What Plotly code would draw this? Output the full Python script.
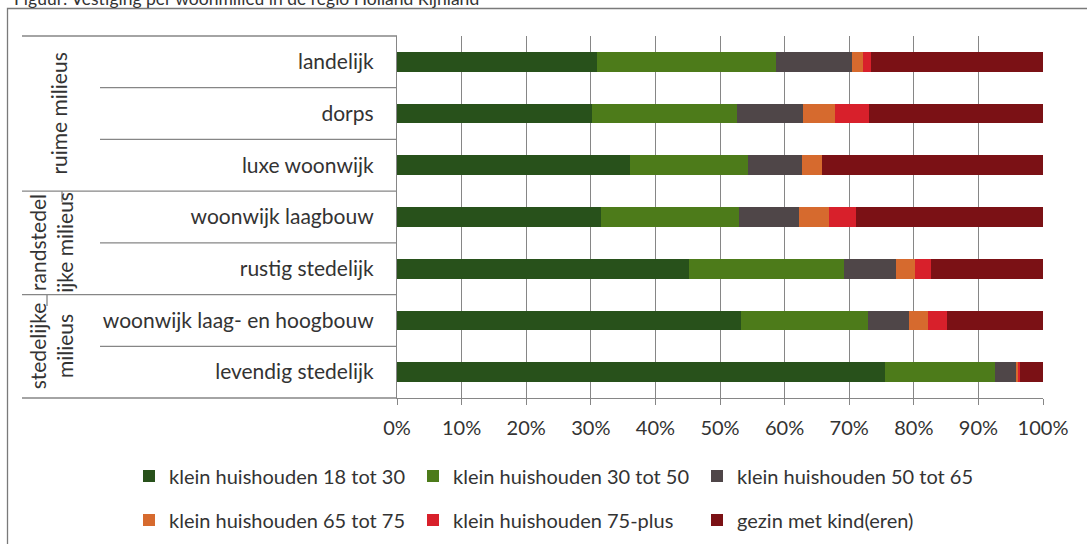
import plotly.graph_objects as go

categories = ["landelijk", "dorps", "luxe woonwijk", "woonwijk laagbouw",
              "rustig stedelijk", "woonwijk laag- en hoogbouw", "levendig stedelijk"]
series_names = ["klein huishouden 18 tot 30", "klein huishouden 30 tot 50",
                "klein huishouden 50 tot 65", "klein huishouden 65 tot 75",
                "klein huishouden 75-plus", "gezin met kind(eren)"]
hh_18_30 = [30.9, 30.2, 36.0, 31.6, 45.2, 53.2, 75.6]
hh_30_50 = [27.8, 22.4, 18.4, 21.3, 24.0, 19.7, 17.0]
hh_50_65 = [11.7, 10.2, 8.3, 9.3, 8.0, 6.3, 3.3]
hh_65_75 = [1.8, 5.0, 3.1, 4.7, 3.0, 3.0, 0.3]
hh_75_plus = [1.1, 5.2, 0.0, 4.1, 2.4, 2.9, 0.2]
gezin_kind = [26.7, 27.0, 34.2, 29.0, 17.4, 14.9, 3.6]
groups = ["ruime milieus", "randstedel<br>ijke milieus", "stedelijke<br>milieus"]
group_sizes = [3, 2, 2]
x_ticks = [0, 10, 20, 30, 40, 50, 60, 70, 80, 90, 100]
title_text = "Figuur: Vestiging per woonmilieu in de regio Holland Rijnland"

colors = ["#28511b", "#4d7b1a", "#4f4648", "#d66a2e", "#d8202b", "#7b1115"]
values = [hh_18_30, hh_30_50, hh_50_65, hh_65_75, hh_75_plus, gezin_kind]

FONT = "Lato"
TXT = "#333333"
LINE = "#868686"

fig = go.Figure()
for i, (name, vals, col) in enumerate(zip(series_names, values, colors)):
    fig.add_trace(go.Bar(
        y=categories, x=[v / 100 for v in vals], name=name, orientation="h",
        marker=dict(color=col, line=dict(width=0)),
        legend="legend" if i < 3 else "legend2",
    ))

W, H = 1087, 544
L, R, T, B = 397, 44, 36, 146
pw = W - L - R
ph = H - T - B

def px_x(p):
    return (p - L) / pw

def px_y(p):
    return (H - B - p) / ph

shapes = []
n = len(categories)
boundaries = [n]
acc = n
for g in group_sizes:
    acc -= g
    boundaries.append(acc)
for k in range(n + 1):
    yk = k / n
    x0 = px_x(22) if k in boundaries else px_x(100)
    shapes.append(dict(type="line", xref="paper", yref="paper", x0=x0, x1=0,
                       y0=yk, y1=yk, line=dict(color=LINE, width=1.3)))
shapes.append(dict(type="line", xref="paper", yref="paper", x0=px_x(62), x1=px_x(62),
                   y0=px_y(191), y1=px_y(202), line=dict(color=LINE, width=1.3)))
shapes.append(dict(type="line", xref="paper", yref="paper", x0=px_x(47), x1=px_x(47),
                   y0=px_y(295), y1=px_y(306), line=dict(color=LINE, width=1.3)))
shapes.append(dict(type="rect", xref="paper", yref="paper", x0=px_x(7.5), x1=px_x(1095),
                   y0=px_y(560), y1=px_y(8.5), line=dict(color="#7a7a7a", width=1.3)))

annotations = []
group_label_x = [59, 51, 51]
acc = n
for g, size, gx in zip(groups, group_sizes, group_label_x):
    top = acc / n
    acc -= size
    bot = acc / n
    annotations.append(dict(text=g, xref="paper", yref="paper", x=px_x(gx),
                            y=(top + bot) / 2, showarrow=False, textangle=-90,
                            font=dict(family=FONT, size=21, color=TXT),
                            xanchor="center", yanchor="middle"))
annotations.append(dict(text=title_text, xref="paper", yref="paper", x=px_x(12),
                        y=px_y(11), xanchor="left", yanchor="bottom", showarrow=False,
                        font=dict(family=FONT, size=17.5, color=TXT)))

legend_common = dict(orientation="h", xanchor="left", yanchor="middle",
                     entrywidth=239, entrywidthmode="pixels",
                     font=dict(family=FONT, size=20, color=TXT), traceorder="normal",
                     bgcolor="rgba(0,0,0,0)")

fig.update_layout(
    width=W, height=H,
    margin=dict(l=L, r=R, t=T, b=B, autoexpand=False),
    paper_bgcolor="white", plot_bgcolor="white",
    barmode="stack", bargap=0.62,
    font=dict(family=FONT, size=21, color=TXT),
    shapes=shapes, annotations=annotations,
    legend=dict(x=px_x(129), y=px_y(476), **legend_common),
    legend2=dict(x=px_x(129), y=px_y(520), **legend_common),
    xaxis=dict(range=[0, 1], tickvals=[t / 100 for t in x_ticks],
               ticktext=[f"{t}%" for t in x_ticks], showgrid=True, gridcolor=LINE,
               gridwidth=1.2, showline=True, linecolor=LINE, linewidth=1.3,
               ticks="outside", ticklen=6, tickcolor=LINE, tickwidth=1.3,
               ticklabelstandoff=6, zeroline=False,
               tickfont=dict(family=FONT, size=20, color=TXT)),
    yaxis=dict(categoryorder="array", categoryarray=categories, autorange="reversed",
               showline=True, linecolor=LINE, linewidth=1.3, ticks="",
               ticklabelstandoff=18, showgrid=False,
               tickfont=dict(family=FONT, size=21, color=TXT)),
)

fig.write_html("out.html", config={"displayModeBar": False},
               post_script="document.body.style.margin='0';")
